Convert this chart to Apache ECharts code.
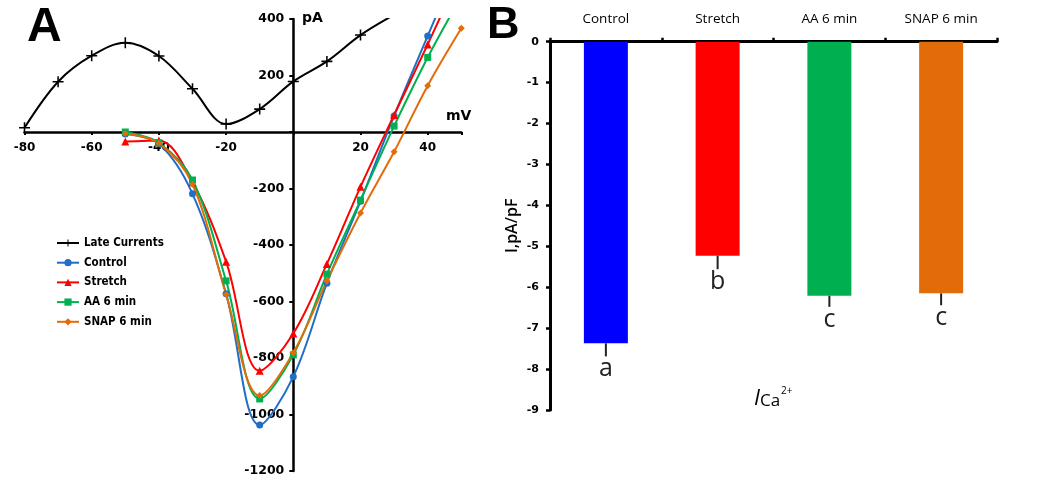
<!DOCTYPE html>
<html><head><meta charset="utf-8">
<script src="https://cdn.jsdelivr.net/npm/echarts@6/dist/echarts.min.js"></script>
<style>html,body{margin:0;padding:0;background:#fff}#c{width:1053px;height:477px}</style>
</head><body><div id="c"></div>
<script>
// ---- Panel A data (I–V curves) ----
const lateVoltages = [-80,-70,-60,-50,-40,-30,-20,-10,0,10,20,30];
const lateCurrents = [15,178,270,316,269,153,28,81,179,250,343,415];
const ivVoltages = [-50,-40,-30,-20,-10,0,10,20,30,40,50];
const control = [-7,-42,-219,-573,-1037,-866,-535,-245,57,340,620];
const stretch = [-34,-30,-178,-459,-845,-713,-467,-194,60,310,570];
const aa6 = [0,-38,-170,-527,-945,-789,-503,-241,21,264,480];
const snap6 = [-5,-40,-185,-575,-933,-781,-527,-287,-70,164,367];
const seriesNamesA = ['Late Currents','Control','Stretch','AA 6 min','SNAP 6 min'];
const xRangeA = [-80, 50];
const yRangeA = [-1200, 400];

// ---- Panel B data (bar chart) ----
const categoriesB = ['Control','Stretch','AA 6 min','SNAP 6 min'];
const meanB = [-7.37,-5.23,-6.21,-6.15];
const errB = [0.32,0.33,0.27,0.29];
const lettersB = ['a','b','c','c'];

const W = 1053, H = 477;
const gridA = {left:24.5, right:591.7, top:19, bottom:6};
const gridB = {left:550, right:56, top:41.7, bottom:67};
// pixel offsets so axes cross at the origin (derived from grid and ranges)
const gwA = W - gridA.left - gridA.right, ghA = H - gridA.top - gridA.bottom;
const yAxisOffset = -gwA * (0 - xRangeA[0]) / (xRangeA[1] - xRangeA[0]);
const xAxisOffset = -ghA * (0 - yRangeA[0]) / (yRangeA[1] - yRangeA[0]);

const pairs = (xs, ys) => xs.map((x,i)=>[x, ys[i]]);
const FA = 'DejaVu Sans';
const colorsA = ['#000000','#1F6FC6','#FF0000','#00B050','#E36C0A'];
const barColors = ['#0000FF','#FF0000','#00B050','#E36C0A'];
const plus = 'path://M4.3,0h1.4v4.3h4.3v1.4h-4.3v4.3h-1.4v-4.3h-4.3v-1.4h4.3z';

function lineSeries(name, data, color, symbol, size){
  return {type:'line', name, xAxisIndex:0, yAxisIndex:0, data, smooth:0.35,
    symbol, symbolSize:size, showAllSymbol:true, clip:true,
    lineStyle:{color, width:2}, itemStyle:{color}, z:3};
}

const chart = echarts.init(document.getElementById('c'), null, {renderer:'canvas'});
chart.setOption({
  animation:false,
  backgroundColor:'#fff',
  grid:[
    Object.assign({outerBoundsMode:'none', containLabel:false}, gridA),
    Object.assign({outerBoundsMode:'none', containLabel:false}, gridB)
  ],
  xAxis:[
    {type:'value', gridIndex:0, min:xRangeA[0], max:xRangeA[1], interval:20,
     position:'bottom', offset:xAxisOffset,
     axisLine:{onZero:false, lineStyle:{color:'#000', width:2.5}},
     axisTick:{show:true, length:3, lineStyle:{color:'#000', width:2}},
     splitLine:{show:false}, showMaxLabel:false,
     axisLabel:{color:'#000', fontFamily:FA, fontWeight:'bold', fontSize:12, margin:10,
       formatter:v=> (v===0||v===50)?'':String(v)}},
    {type:'category', gridIndex:1, position:'top', data:categoriesB,
     axisLine:{lineStyle:{color:'#000', width:3}},
     axisTick:{show:true, alignWithLabel:false, length:4, lineStyle:{color:'#000', width:2.5}},
     axisLabel:{color:'#000', fontFamily:'Open Sans', fontSize:13.5, margin:16}}
  ],
  yAxis:[
    {type:'value', gridIndex:0, min:yRangeA[0], max:yRangeA[1], interval:200,
     position:'left', offset:yAxisOffset,
     axisLine:{onZero:false, lineStyle:{color:'#000', width:2.5}},
     axisTick:{show:true, length:4, lineStyle:{color:'#000', width:2}},
     splitLine:{show:false},
     axisLabel:{color:'#000', fontFamily:FA, fontWeight:'bold', fontSize:12.5, margin:9,
       formatter:v=> v===0?'':String(v)}},
    {type:'value', gridIndex:1, min:-9, max:0, interval:1,
     axisLine:{show:true, onZero:false, lineStyle:{color:'#000', width:3}},
     axisTick:{show:true, length:4, lineStyle:{color:'#000', width:2.5}},
     splitLine:{show:false},
     name:'I,pA/pF', nameLocation:'middle', nameGap:30, nameRotate:90,
     nameTextStyle:{color:'#000', fontFamily:'Open Sans', fontSize:16, fontWeight:600},
     axisLabel:{color:'#000', fontFamily:FA, fontWeight:'bold', fontSize:11, margin:11}}
  ],
  legend:{
    orient:'vertical', left:56, top:237, padding:0, itemGap:7.7, itemWidth:22, itemHeight:9,
    data:seriesNamesA,
    textStyle:{color:'#000', fontFamily:'DejaVu Sans Condensed', fontWeight:'bold', fontSize:11.5}
  },
  graphic:[
    {type:'text', left:27, top:4, style:{text:'A', fontFamily:'Liberation Sans', fontWeight:'bold', fontSize:48, fill:'#000'}},
    {type:'text', left:487, top:3, style:{text:'B', fontFamily:'Liberation Sans', fontWeight:'bold', fontSize:45, fill:'#000'}},
    {type:'text', left:302, top:11, style:{text:'pA', fontFamily:FA, fontWeight:'bold', fontSize:14, fill:'#000'}},
    {type:'text', left:446, top:109, style:{text:'mV', fontFamily:FA, fontWeight:'bold', fontSize:14, fill:'#000'}},
    {type:'text', left:754, top:386, style:{
      text:'{i|I}{c|Ca}{s|2+}',
      rich:{
        i:{fontFamily:'Open Sans', fontStyle:'italic', fontSize:22, fill:'#000', verticalAlign:'bottom'},
        c:{fontFamily:'Open Sans', fontSize:17, fill:'#000', verticalAlign:'bottom'},
        s:{fontFamily:'Open Sans', fontSize:10, fill:'#000', verticalAlign:'top', padding:[0,0,14,1]}
      }}}
  ],
  series:[
    lineSeries(seriesNamesA[0], pairs(lateVoltages, lateCurrents), colorsA[0], plus, 11),
    lineSeries(seriesNamesA[1], pairs(ivVoltages, control), colorsA[1], 'circle', 7),
    lineSeries(seriesNamesA[2], pairs(ivVoltages, stretch), colorsA[2], 'triangle', 8),
    lineSeries(seriesNamesA[3], pairs(ivVoltages, aa6), colorsA[3], 'rect', 7),
    lineSeries(seriesNamesA[4], pairs(ivVoltages, snap6), colorsA[4], 'diamond', 7),
    {type:'bar', xAxisIndex:1, yAxisIndex:1, barWidth:44,
     data: meanB.map((v,i)=>({value:v, itemStyle:{color:barColors[i]}}))},
    {type:'custom', xAxisIndex:1, yAxisIndex:1, z:5,
     data: meanB.map((v,i)=>[i, v, errB[i]]),
     renderItem:(params, api)=>{
       const i = api.value(0), v = api.value(1), e = api.value(2);
       const p0 = api.coord([i, v]);
       const p1 = api.coord([i, v - e]);
       return {type:'group', children:[
         {type:'line', shape:{x1:p0[0], y1:p0[1], x2:p1[0], y2:p1[1]}, style:{stroke:'#222', lineWidth:2}},
         {type:'text', x:p1[0], y:p1[1]+25, style:{text:lettersB[params.dataIndex], fill:'#222',
           fontFamily:'Open Sans', fontSize:25, align:'center', verticalAlign:'bottom'}}
       ]};
     }}
  ]
});
</script></body></html>
